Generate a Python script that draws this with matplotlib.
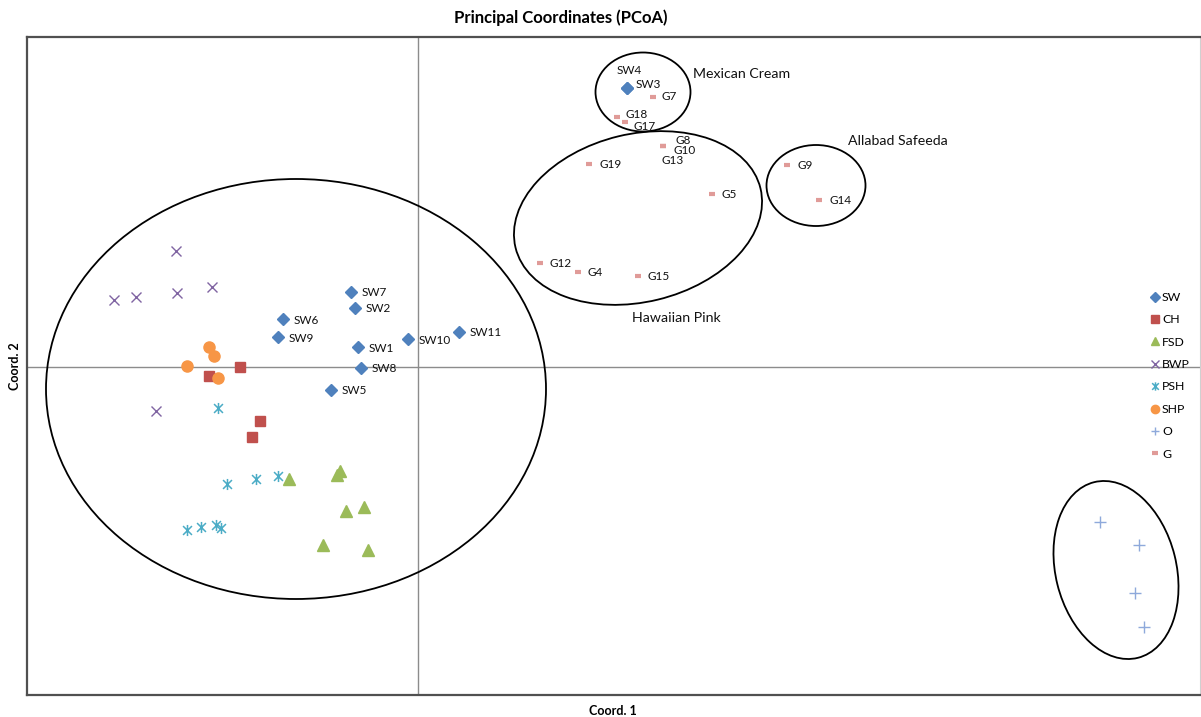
import matplotlib
matplotlib.use("Agg")
import matplotlib.pyplot as plt
from matplotlib.patches import Ellipse
from matplotlib.path import Path

plt.rcParams['font.family'] = ['Lato', 'DejaVu Sans']

# ---------------- data ----------------
sw_names = ["SW1", "SW2", "SW3", "SW4", "SW5", "SW6", "SW7", "SW8", "SW9", "SW10", "SW11"]
sw_x = [-0.060, -0.063, 0.209, 0.209, -0.087, -0.135, -0.067, -0.057, -0.140, -0.010, 0.041]
sw_y = [0.020, 0.059, 0.279, 0.279, -0.023, 0.048, 0.075, -0.001, 0.030, 0.028, 0.035]

ch_x = [-0.178, -0.209, -0.158, -0.166]
ch_y = [0.000, -0.009, -0.054, -0.070]

fsd_x = [-0.129, -0.081, -0.078, -0.054, -0.072, -0.095, -0.050]
fsd_y = [-0.112, -0.108, -0.104, -0.140, -0.144, -0.178, -0.183]

bwp_x = [-0.242, -0.206, -0.304, -0.282, -0.241, -0.262]
bwp_y = [0.116, 0.080, 0.067, 0.070, 0.074, -0.044]

psh_x = [-0.200, -0.191, -0.162, -0.140, -0.231, -0.217, -0.202, -0.197]
psh_y = [-0.041, -0.117, -0.112, -0.109, -0.163, -0.160, -0.158, -0.161]

shp_x = [-0.209, -0.204, -0.231, -0.200]
shp_y = [0.020, 0.011, 0.001, -0.011]

o_x = [0.682, 0.721, 0.717, 0.726]
o_y = [-0.155, -0.178, -0.226, -0.260]

g_names = ["G4", "G5", "G7", "G8", "G9", "G10", "G12", "G13", "G14", "G15", "G17", "G18", "G19"]
g_x = [0.160, 0.294, 0.235, 0.245, 0.369, 0.245, 0.122, 0.245, 0.401, 0.220, 0.207, 0.199, 0.171]
g_y = [0.095, 0.173, 0.270, 0.221, 0.202, 0.221, 0.104, 0.221, 0.167, 0.091, 0.245, 0.250, 0.203]

# cluster ellipses: center x, center y, width, height, angle
ell_cx = [-0.122, 0.225, 0.220, 0.398, 0.698]
ell_cy = [-0.022, 0.275, 0.149, 0.1815, -0.203]
ell_w = [0.500, 0.095, 0.2520, 0.099, 0.1207]
ell_h = [0.420, 0.079, 0.1680, 0.081, 0.181]
ell_ang = [0, 0, 13.6, 0, 14]

cluster_names = ["Mexican Cream", "Allabad Safeeda", "Hawaiian Pink"]
cluster_x = [0.275, 0.430, 0.214]
cluster_y = [0.293, 0.226, 0.049]

# label offsets (pixels)
sw_off = {"SW3": (9, 4), "SW4": (-10, 18)}
g_off = {"G7": (9, 0), "G8": (12, 6), "G10": (10, -5), "G13": (-1, -14),
         "G17": (8, -4), "G18": (9, 3)}

# ---------------- figure ----------------
W, H = 1201, 717
fig = plt.figure(figsize=(W / 100, H / 100), dpi=100)
ax = fig.add_axes([27 / W, 22 / H, 1173 / W, 658 / H])
ax.set_xlim(-0.391, 0.782)
ax.set_ylim(-0.328, 0.330)
ax.set_xticks([])
ax.set_yticks([])
for s in ["left", "top", "bottom"]:
    ax.spines[s].set_color("#505050")
    ax.spines[s].set_linewidth(1.6)
ax.spines["right"].set_color("#d0d0d0")
ax.spines["right"].set_linewidth(0.8)

ax.axhline(0, color="#8c8c8c", lw=1.0, zorder=1)
ax.axvline(0, color="#8c8c8c", lw=1.0, zorder=1)

c_sw = "#4F81BD"
c_ch = "#C0504D"
c_fsd = "#9BBB59"
c_bwp = "#8064A2"
c_psh = "#4BACC6"
c_shp = "#F79646"
c_o = "#8EA9DB"
c_g = "#E09B98"

star = Path([(-1, -1), (1, 1), (-1, 1), (1, -1), (0, -1.25), (0, 1.25)],
            [Path.MOVETO, Path.LINETO, Path.MOVETO, Path.LINETO, Path.MOVETO, Path.LINETO])

h_sw, = ax.plot(sw_x, sw_y, ls="none", marker="D", ms=6.5, color=c_sw, zorder=3, label="SW")
h_ch, = ax.plot(ch_x, ch_y, ls="none", marker="s", ms=7.5, color=c_ch, zorder=3, label="CH")
h_fsd, = ax.plot(fsd_x, fsd_y, ls="none", marker="^", ms=8, color=c_fsd, zorder=3, label="FSD")
h_bwp, = ax.plot(bwp_x, bwp_y, ls="none", marker="x", ms=7.5, mew=1.0, color=c_bwp, zorder=3, label="BWP")
h_psh, = ax.plot(psh_x, psh_y, ls="none", marker=star, ms=8, mew=1.1, color=c_psh, zorder=3, label="PSH")
h_shp, = ax.plot(shp_x, shp_y, ls="none", marker="o", ms=8, color=c_shp, zorder=3, label="SHP")
h_o, = ax.plot(o_x, o_y, ls="none", marker="+", ms=8, mew=1.0, color=c_o, zorder=3, label="O")
h_g, = ax.plot(g_x, g_y, ls="none", marker="_", ms=5, mew=3, color=c_g, zorder=3, label="G")

for n, x, y in zip(sw_names, sw_x, sw_y):
    dx, dy = sw_off.get(n, (11, -1))
    ax.annotate(n, (x, y), xytext=(dx, dy), textcoords="offset pixels",
                ha="left", va="center", fontsize=8.5, color="#111111")
for n, x, y in zip(g_names, g_x, g_y):
    dx, dy = g_off.get(n, (10, -0.5))
    ax.annotate(n, (x, y), xytext=(dx, dy), textcoords="offset pixels",
                ha="left", va="center", fontsize=8.5, color="#111111")

for cx, cy, w, h, a in zip(ell_cx, ell_cy, ell_w, ell_h, ell_ang):
    ax.add_patch(Ellipse((cx, cy), w, h, angle=a, fill=False, ec="black", lw=1.3, zorder=2))

for n, x, y in zip(cluster_names, cluster_x, cluster_y):
    ax.text(x, y, n, ha="left", va="center", fontsize=10.2, color="#111111")

leg = ax.legend(handles=[h_sw, h_ch, h_fsd, h_bwp, h_psh, h_shp, h_o, h_g],
                loc="upper left", bbox_to_anchor=(1151 / W, 1 - 292 / H),
                bbox_transform=fig.transFigure, frameon=False, fontsize=8.8,
                handlelength=0.6, handletextpad=0.3, labelspacing=0.93,
                borderpad=0, borderaxespad=0, markerscale=0.75)

fig.text(561 / W, 1 - 18 / H, "Principal Coordinates (PCoA)", ha="center", va="center",
         fontsize=12, fontweight="bold")
fig.text(613 / W, 1 - 711 / H, "Coord. 1", ha="center", va="center", fontsize=9, fontweight="bold")
fig.text(15 / W, 1 - 366 / H, "Coord. 2", ha="center", va="center", fontsize=9,
         fontweight="bold", rotation=90)

fig.savefig("out.png", dpi=100)
